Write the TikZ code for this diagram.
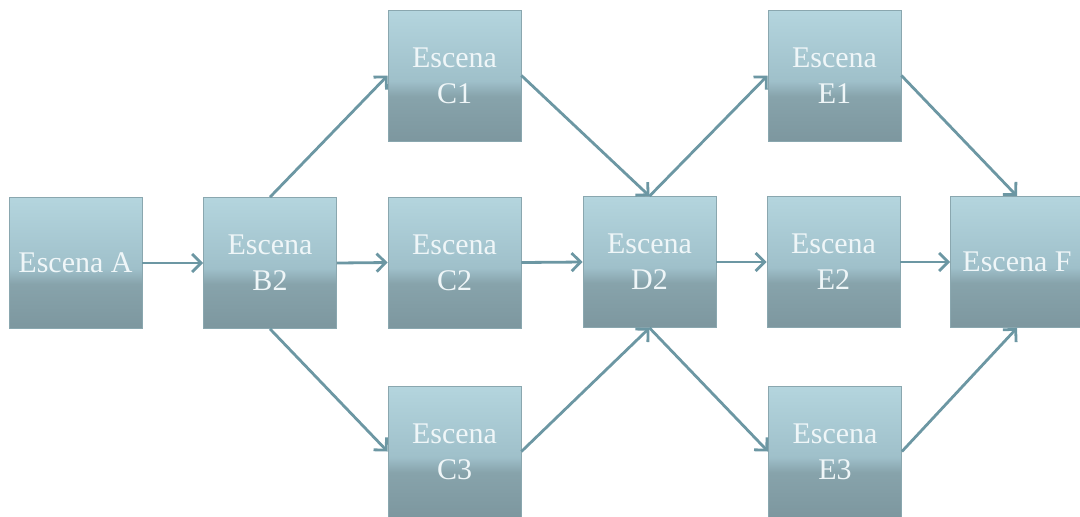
\documentclass[tikz,border=0pt]{standalone}
\usepackage{fontspec}
\setmainfont{Liberation Serif}
\usetikzlibrary{arrows.meta}

\definecolor{sdark}{HTML}{7D979F}
\definecolor{sdarkb}{HTML}{87A3AB}
\definecolor{smid}{HTML}{9FC0CA}
\definecolor{slight}{HTML}{B4D5DE}
\definecolor{sedge}{HTML}{8AA7AF}
\definecolor{link}{HTML}{6C97A3}
\definecolor{label}{HTML}{EFF6F8}

% vertical shading: the path spans 25bp (bottom) to 75bp (top)
\pgfdeclareverticalshading{scene}{100bp}{%
  color(0bp)=(sdark); color(25bp)=(sdark); color(42bp)=(sdarkb);
  color(48bp)=(smid); color(75bp)=(slight); color(100bp)=(slight)}

\tikzset{
  scenebox/.style={rectangle, shading=scene, draw=sedge, line width=0.4pt,
    minimum width=66.5pt, minimum height=65.5pt, inner sep=0pt,
    align=center, text=label,
    font=\fontsize{15}{18}\selectfont},
  flow/.style={draw=link, line width=1.4pt,
    -{Straight Barb[length=4.5pt,width=9pt]}}
}

\begin{document}
\begin{tikzpicture}[x=0.5pt, y=-0.5pt]
  \useasboundingbox (0,0) rectangle (1080,516);

  \node[scenebox] (A)  at (75.5, 263)   {Escena A};
  \node[scenebox] (B2) at (270, 263)    {Escena\\B2};
  \node[scenebox] (C1) at (454.5, 75.5) {Escena\\C1};
  \node[scenebox] (C2) at (454.5, 262.5){Escena\\C2};
  \node[scenebox] (C3) at (454.5, 451.5){Escena\\C3};
  \node[scenebox] (D2) at (649.5, 262)  {Escena\\D2};
  \node[scenebox] (E1) at (834.5, 75.5) {Escena\\E1};
  \node[scenebox] (E2) at (833.5, 262)  {Escena\\E2};
  \node[scenebox] (E3) at (835, 451.5)  {Escena\\E3};
  \node[scenebox] (F)  at (1017, 262)   {Escena F};

  \draw[flow] (A.east) -- (B2.west);
  \draw[flow] (B2.north) -- (C1.west);
  \draw[flow] (B2.east) -- (C2.west);
  \draw[flow] (B2.south) -- (C3.west);
  \draw[flow] (C1.east) -- (D2.north);
  \draw[flow] (C2.east) -- (D2.west);
  \draw[flow] (C3.east) -- (D2.south);
  \draw[flow] (D2.north) -- (E1.west);
  \draw[flow] (D2.east) -- (E2.west);
  \draw[flow] (D2.south) -- (E3.west);
  \draw[flow] (E1.east) -- (F.north);
  \draw[flow] (E2.east) -- (F.west);
  \draw[flow] (E3.east) -- (F.south);
\end{tikzpicture}
\end{document}
